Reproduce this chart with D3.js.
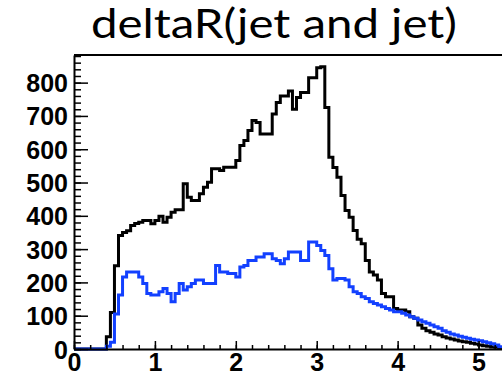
<!DOCTYPE html>
<html>
<head>
<meta charset="utf-8">
<script src="https://cdn.jsdelivr.net/npm/d3@7"></script>
<style>
  html, body { margin: 0; padding: 0; background: #fff; }
  svg { display: block; }
</style>
</head>
<body>
<svg id="chart" width="502" height="380"></svg>
<script>
// deltaR between the two jets, 0.05-wide bins starting at 0
const binWidth = 0.05;
const binStart = 0;

// all events (black)
const allJets = [
  0, 0, 0, 0, 0, 0, 0, 0, 37, 110,
  250, 341, 350, 355, 371, 377, 381, 386, 386, 376,
  386, 399, 381, 396, 411, 418, 418, 496, 456, 446,
  446, 466, 486, 501, 541, 541, 536, 546, 546, 546,
  566, 611, 626, 656, 686, 680, 646, 646, 646, 706,
  740, 760, 760, 775, 720, 755, 770, 770, 815, 815,
  845, 848, 725, 576, 545, 516, 461, 416, 396, 356,
  330, 316, 266, 231, 222, 207, 167, 157, 157, 122,
  117, 117, 112, 97, 92, 72, 62, 55, 50, 45,
  42, 37, 33, 30, 27, 24, 22, 20, 17, 15,
  12, 10, 8, 6, 5, 3
];

// selected events (blue)
const selectedJets = [
  0, 0, 0, 0, 0, 0, 0, 0, 8, 20,
  105, 162, 216, 231, 231, 231, 216, 197, 167, 162,
  162, 172, 182, 167, 142, 167, 197, 177, 187, 197,
  207, 207, 197, 197, 197, 251, 231, 231, 227, 227,
  216, 246, 251, 266, 266, 276, 276, 286, 286, 271,
  266, 256, 271, 291, 291, 291, 266, 266, 321, 321,
  311, 296, 281, 241, 207, 212, 212, 207, 187, 172,
  167, 157, 152, 142, 137, 132, 127, 122, 117, 112,
  112, 107, 102, 97, 92, 87, 82, 77, 72, 67,
  62, 55, 50, 45, 42, 38, 35, 32, 29, 27,
  25, 22, 19, 16, 12, 7
];

const xTicks = [0, 1, 2, 3, 4, 5];
const yTicks = [0, 100, 200, 300, 400, 500, 600, 700, 800];
const titleText = "deltaR(jet and jet)";

const svg = d3.select("#chart");
const W = 502, H = 380;
const plot = { left: 74, right: 502, top: 55, bottom: 349 };

svg.append("rect").attr("width", W).attr("height", H).attr("fill", "#fff");

const x = d3.scaleLinear().domain([0, 5.29]).range([plot.left, plot.right]);
const y = d3.scaleLinear().domain([0, 883]).range([plot.bottom, plot.top]);

// step outline of a histogram: each bin is a flat segment at its content
function stepPoints(values) {
  const pts = values.map((v, i) => [binStart + i * binWidth, v]);
  pts.push([binStart + values.length * binWidth, values[values.length - 1]]);
  return pts;
}
const step = d3.line()
  .x(d => x(d[0]))
  .y(d => y(d[1]))
  .curve(d3.curveStepAfter);

svg.append("defs").append("clipPath").attr("id", "plotClip")
  .append("rect")
  .attr("x", plot.left).attr("y", plot.top - 2)
  .attr("width", plot.right - plot.left).attr("height", plot.bottom - plot.top + 4);

const marks = svg.append("g").attr("clip-path", "url(#plotClip)");
marks.append("path")
  .attr("d", step(stepPoints(allJets)))
  .attr("fill", "none").attr("stroke", "#000")
  .attr("stroke-width", 3).attr("stroke-linejoin", "miter");
marks.append("path")
  .attr("d", step(stepPoints(selectedJets)))
  .attr("fill", "none").attr("stroke", "#1240ff")
  .attr("stroke-width", 3).attr("stroke-linejoin", "miter");

// frame line along the top
const frame = svg.append("g").attr("stroke", "#000").attr("stroke-width", 2);
frame.append("line").attr("x1", plot.left).attr("x2", plot.right).attr("y1", plot.top).attr("y2", plot.top);

const labelFont = "'Liberation Sans', Arial, Helvetica, sans-serif";

// y axis: major + minor ticks pointing inward
const yMinor = d3.range(0, 881, 20);
const yAxisMinor = d3.axisLeft(y).tickValues(yMinor).tickSize(-7).tickSizeOuter(0).tickFormat("");
const yAxis = d3.axisLeft(y).tickValues(yTicks).tickSize(-14).tickSizeOuter(0).tickPadding(6);

svg.append("g").attr("transform", `translate(${plot.left},0)`).call(yAxisMinor)
  .call(g => g.select(".domain").remove())
  .call(g => g.selectAll("line").attr("stroke", "#000").attr("stroke-width", 1.5));
const gy = svg.append("g").attr("transform", `translate(${plot.left},0)`).call(yAxis);
gy.select(".domain").attr("stroke-width", 2);
gy.selectAll("line").attr("stroke", "#000").attr("stroke-width", 1.5);
gy.selectAll("text")
  .attr("font-family", labelFont).attr("font-weight", "bold")
  .attr("font-size", 25).attr("fill", "#000")
  .attr("dy", "0.36em");

// x axis
const xMinor = d3.range(0, 5.29, 0.2);
const xAxisMinor = d3.axisBottom(x).tickValues(xMinor).tickSize(-4).tickSizeOuter(0).tickFormat("");
const xAxis = d3.axisBottom(x).tickValues(xTicks).tickSize(-8).tickSizeOuter(0).tickPadding(4).tickFormat(d3.format("d"));

svg.append("g").attr("transform", `translate(0,${plot.bottom})`).call(xAxisMinor)
  .call(g => g.select(".domain").remove())
  .call(g => g.selectAll("line").attr("stroke", "#000").attr("stroke-width", 1.5));
const gx = svg.append("g").attr("transform", `translate(0,${plot.bottom})`).call(xAxis);
gx.select(".domain").attr("stroke-width", 2);
gx.selectAll("line").attr("stroke", "#000").attr("stroke-width", 1.5);
gx.selectAll("text")
  .attr("font-family", labelFont).attr("font-weight", "bold")
  .attr("font-size", 25).attr("fill", "#000");

// title
svg.append("text")
  .attr("x", 274).attr("y", 38)
  .attr("text-anchor", "middle")
  .attr("font-family", "Lato, 'Open Sans', sans-serif")
  .attr("font-size", 40)
  .attr("textLength", 366).attr("lengthAdjust", "spacingAndGlyphs")
  .attr("fill", "#000")
  .text(titleText);
</script>
</body>
</html>
